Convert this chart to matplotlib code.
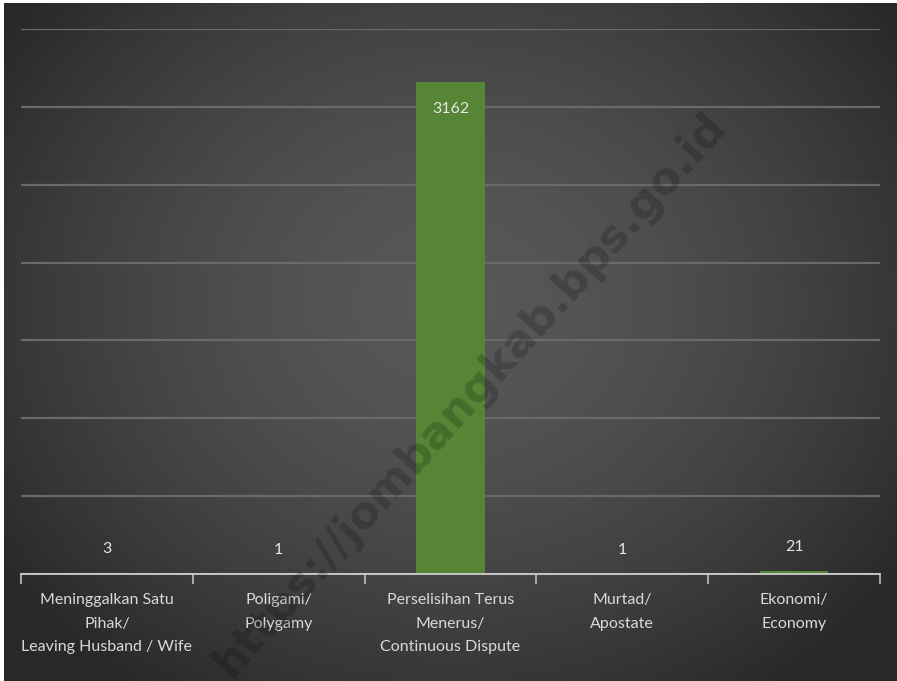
import numpy as np
import matplotlib
matplotlib.use('Agg')
import matplotlib.pyplot as plt

categories = ['Meninggalkan Satu\nPihak/\nLeaving Husband / Wife',
              'Poligami/\nPolygamy',
              'Perselisihan Terus\nMenerus/\nContinuous Dispute',
              'Murtad/\nApostate',
              'Ekonomi/\nEconomy']
values = [3, 1, 3162, 1, 21]
y_max = 3500
y_step = 500

W, H = 897, 681
fig = plt.figure(figsize=(W / 100, H / 100), dpi=100, facecolor='white')

# latar belakang gradasi radial gelap
bg = fig.add_axes([4 / W, 0, 1 - 4 / W, 1 - 3 / H])
yy, xx = np.mgrid[0:H, 0:W]
r = np.sqrt(((xx - 450) / 560.0) ** 2 + ((yy - 300) / 480.0) ** 2)
shade = np.clip(0.345 - 0.19 * r ** 1.6, 0.16, 0.35)
bg.imshow(np.dstack([shade] * 3), aspect='auto', extent=[0, 1, 0, 1])
bg.axis('off')

ax = fig.add_axes([21 / W, 1 - 574 / H, (880 - 21) / W, (574 - 29) / H])
ax.patch.set_alpha(0)
x = np.arange(len(values))
ax.bar(x, values, width=0.4, color='#558535', zorder=3)
ax.set_xlim(-0.5, len(values) - 0.5)
ax.set_ylim(0, y_max)
ax.set_yticks(np.arange(0, y_max + 1, y_step))
ax.yaxis.grid(True, color='#6a6a6a', linewidth=1.6, zorder=0)
ax.tick_params(axis='y', left=False, labelleft=False)

for s in ['top', 'right', 'left']:
    ax.spines[s].set_visible(False)
ax.spines['bottom'].set_color('#cfcfcf')
ax.spines['bottom'].set_linewidth(1.3)
ax.spines['bottom'].set_zorder(4)

# garis tick di batas kategori
ax.set_xticks(np.arange(-0.5, len(values), 1.0))
ax.set_xticklabels([])
ax.tick_params(axis='x', length=7, width=1.2, color='#bfbfbf', direction='out')
ax.set_xticks(x, minor=True)
ax.set_xticklabels(categories, minor=True, fontsize=11.5, color='#d9d9d9',
                   family='Lato')
for t in ax.get_xticklabels(minor=True):
    t.set_linespacing(1.85)
ax.tick_params(axis='x', which='minor', length=0, pad=14)

for xi, v in zip(x, values):
    if v > y_max * 0.5:
        ax.text(xi, v - 130, str(v), ha='center', va='top', fontsize=11.5,
                color='#e6e6e6', family='Lato', zorder=5)
    else:
        ax.text(xi, v + 110, str(v), ha='center', va='bottom', fontsize=11.5,
                color='#e6e6e6', family='Lato', zorder=5)

# watermark
fig.text(470 / W, 1 - 395 / H, 'https://jombangkab.bps.go.id', fontsize=32,
         fontweight='bold', color='black', alpha=0.19, rotation=48,
         ha='center', va='center', family='DejaVu Sans', zorder=10)

fig.savefig('out.png', dpi=100, facecolor=fig.get_facecolor())
